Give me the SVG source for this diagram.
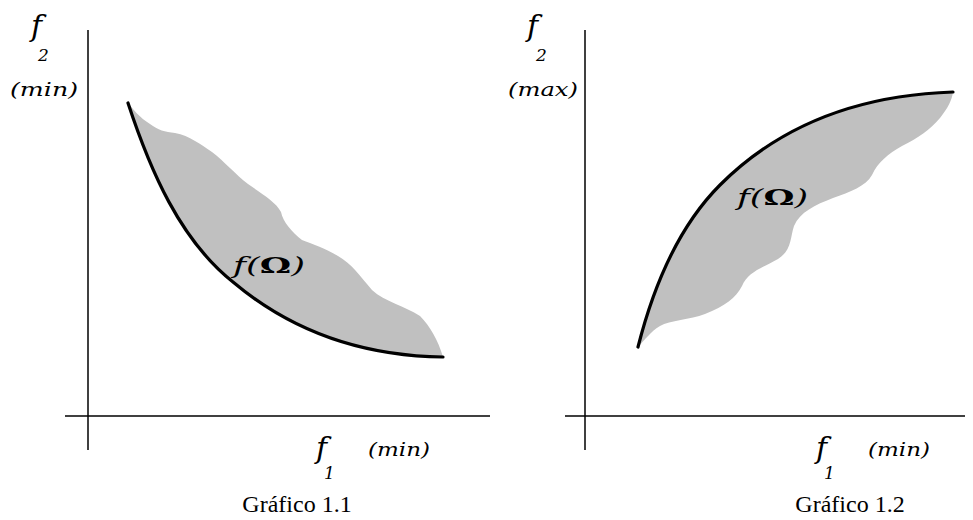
<svg xmlns="http://www.w3.org/2000/svg" width="973" height="520" viewBox="0 0 973 520">
<style>
.ax{stroke:#000;stroke-width:1.5;fill:none}
.front{stroke:#000;stroke-width:3.2;fill:none;stroke-linecap:round;stroke-linejoin:round}
.reg{fill:#c0c0c0;stroke:none}
.it{font-family:"DejaVu Serif","Liberation Serif",serif;font-style:italic;fill:#000}
.cap{font-family:"Liberation Serif",serif;font-size:24px;fill:#000}
</style>
<rect width="973" height="520" fill="#fff"/>
<g id="chart1">
<path class="reg" d="M128,103 C132,108 140,118 150,124 C158,130 165,132 175,133 C190,136 200,144 212,152 C225,162 235,174 248,184 C262,194 276,202 281,212 C283,222 292,232 302,240 C312,244 325,248 338,256 C352,264 360,276 372,290 C385,302 405,306 420,316 C430,326 438,340 443,357 C360,356 290,330 233,282 C180,240 150,170 128,103 Z"/>
<path class="front" d="M128,103 C150,170 180,240 233,282 C290,330 360,356 443,357"/>
<g class="ax"><line x1="88" y1="30" x2="88" y2="450"/><line x1="65" y1="416" x2="490" y2="416"/></g>
<text class="it" x="31" y="36" font-size="30">f</text>
<text class="it" x="38" y="61" font-size="17">2</text>
<text class="it" x="10" y="96" font-size="19" textLength="68" lengthAdjust="spacingAndGlyphs">(min)</text>
<text class="it" x="316" y="458" font-size="30">f</text>
<text class="it" x="324" y="479" font-size="17">1</text>
<text class="it" x="368" y="456" font-size="19" textLength="62" lengthAdjust="spacingAndGlyphs">(min)</text>
<text class="it" x="233" y="273" font-size="22" textLength="72" lengthAdjust="spacingAndGlyphs">f(<tspan font-style="normal" font-weight="bold">Ω</tspan>)</text>
<text class="cap" x="297" y="512" text-anchor="middle">Gráfico 1.1</text>
</g>
<g id="chart2">
<path class="reg" d="M638,347 C655,280 680,225 720,185 C780,125 860,95 953,92 C952,100 948,108 940,118 C930,130 918,138 902,146 C888,154 878,162 872,175 C866,186 850,192 833,198 C815,205 800,212 794,226 C790,238 792,250 778,259 C762,268 748,272 742,286 C736,298 725,306 705,314 C690,320 670,320 660,326 C650,332 645,340 638,347 Z"/>
<path class="front" d="M638,347 C655,280 680,225 720,185 C780,125 860,95 953,92"/>
<g class="ax"><line x1="585" y1="30" x2="585" y2="450"/><line x1="565" y1="416" x2="965" y2="416"/></g>
<text class="it" x="527" y="36" font-size="30">f</text>
<text class="it" x="536" y="61" font-size="17">2</text>
<text class="it" x="508" y="96" font-size="19" textLength="70" lengthAdjust="spacingAndGlyphs">(max)</text>
<text class="it" x="816" y="458" font-size="30">f</text>
<text class="it" x="824" y="479" font-size="17">1</text>
<text class="it" x="868" y="456" font-size="19" textLength="62" lengthAdjust="spacingAndGlyphs">(min)</text>
<text class="it" x="737" y="205" font-size="22" textLength="71" lengthAdjust="spacingAndGlyphs">f(<tspan font-style="normal" font-weight="bold">Ω</tspan>)</text>
<text class="cap" x="850" y="512" text-anchor="middle">Gráfico 1.2</text>
</g>
</svg>
